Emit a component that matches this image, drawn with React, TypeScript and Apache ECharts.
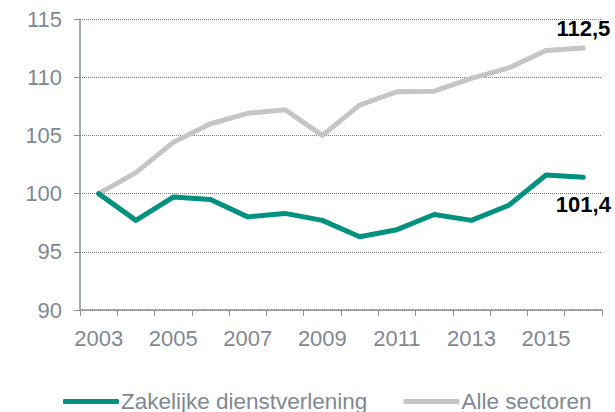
import React, { useEffect, useRef } from "react";
import * as echarts from "echarts";

const years = ["2003", "2004", "2005", "2006", "2007", "2008", "2009", "2010", "2011", "2012", "2013", "2014", "2015", "2016"];
const zakelijk = [100, 97.7, 99.7, 99.5, 98.0, 98.3, 97.7, 96.3, 96.9, 98.2, 97.7, 99.0, 101.6, 101.4];
const alle = [100, 101.8, 104.4, 106.0, 106.9, 107.2, 105.0, 107.6, 108.75, 108.8, 109.9, 110.8, 112.3, 112.5];
const seriesNames = ["Zakelijke dienstverlening", "Alle sectoren"];
const endLabels = ["101,4", "112,5"];

const FONT = "'Liberation Sans', Arial, sans-serif";
const GREY_TEXT = "#7f8993";
const AXIS = "#8a9198";

function withEndLabel(values: number[], text: string, position: string, distance: number) {
  return values.map((v, i) =>
    i === values.length - 1
      ? {
          value: v,
          label: {
            show: true,
            position,
            distance,
            formatter: text,
            fontFamily: FONT,
            fontSize: 22,
            fontWeight: "bold",
            color: "#000",
          },
        }
      : v
  );
}

export default function App() {
  const ref = useRef<HTMLDivElement>(null);
  useEffect(() => {
    if (!ref.current) return;
    const chart = echarts.init(ref.current, undefined, { renderer: "svg" });
    chart.setOption({
      animation: false,
      grid: { left: 80, right: 13, top: 19, bottom: 102, containLabel: false },
      legend: {
        top: 385,
        left: 58,
        itemWidth: 56,
        itemHeight: 5,
        itemGap: 36,
        icon: "roundRect",
        textStyle: { fontFamily: FONT, fontSize: 22.5, color: GREY_TEXT, padding: [0, 0, 0, -3] },
        data: seriesNames,
      },
      xAxis: {
        type: "category",
        data: years,
        boundaryGap: true,
        axisLine: { lineStyle: { color: AXIS, width: 1.5 } },
        axisTick: { show: true, interval: 0, length: 6, lineStyle: { color: AXIS } },
        axisLabel: { interval: 1, margin: 17, fontFamily: FONT, fontSize: 22, color: GREY_TEXT },
        splitLine: { show: false },
      },
      yAxis: {
        type: "value",
        min: 90,
        max: 115,
        interval: 5,
        axisLine: { show: true, lineStyle: { color: AXIS, width: 1.5 } },
        axisTick: { show: true, length: 6, lineStyle: { color: AXIS } },
        axisLabel: { margin: 18, fontFamily: FONT, fontSize: 22, color: GREY_TEXT },
        splitLine: { show: true, lineStyle: { color: "#7a7a7a", type: [1, 1], width: 1 } },
      },
      series: [
        {
          name: seriesNames[0],
          type: "line",
          data: withEndLabel(zakelijk, endLabels[0], "bottom", 16),
          symbol: "circle",
          symbolSize: 0,
          showSymbol: true,
          color: "#00927e",
          lineStyle: { width: 5, color: "#00927e", cap: "round", join: "round" },
          itemStyle: { color: "#00927e" },
          z: 3,
        },
        {
          name: seriesNames[1],
          type: "line",
          data: withEndLabel(alle, endLabels[1], "top", 9),
          symbol: "circle",
          symbolSize: 0,
          showSymbol: true,
          color: "#c3c5c8",
          lineStyle: { width: 5, color: "#c3c5c8", cap: "round", join: "round" },
          itemStyle: { color: "#c3c5c8" },
          z: 2,
        },
      ],
    });
    return () => chart.dispose();
  }, []);
  return <div ref={ref} style={{ width: 615, height: 412, position: "absolute", left: 0, top: 0 }} />;
}
